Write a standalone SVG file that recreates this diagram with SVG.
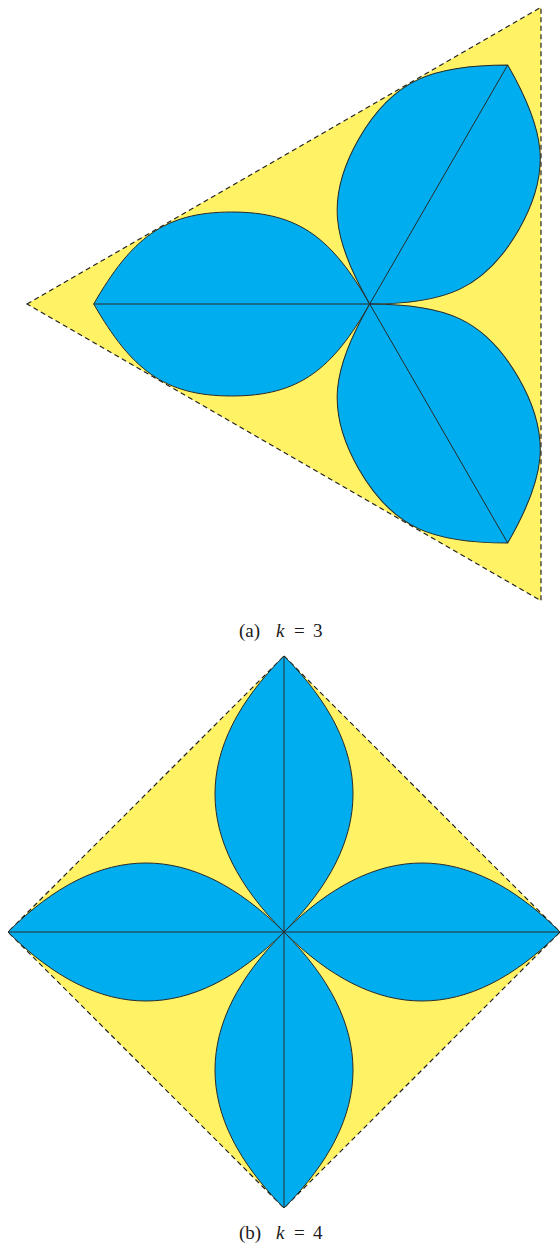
<svg xmlns="http://www.w3.org/2000/svg" width="560" height="1244" viewBox="0 0 560 1244">
<style>
.region{fill:#FFF264;stroke:#222;stroke-width:1.2;stroke-dasharray:5 3.5}
.petal{fill:#00AEEF;stroke:#2a2a2a;stroke-width:1;stroke-linejoin:round}
.axis{stroke:#2a2a2a;stroke-width:1;fill:none}
.cap{font-family:"Liberation Serif","Times New Roman",serif;font-size:19px;fill:#1a1a1a}
.it{font-style:italic}
</style>
<defs>
<path id="p3" d="M-276,0 C-238.5,-65 -206,-92 -138,-92 C-70,-92 -37.5,-65 0,0 C-37.5,65 -70,92 -138,92 C-206,92 -238.5,65 -276,0 Z"/>
<path id="p4" d="M-276,0 C-184,-92 -92,-92 0,0 C-92,92 -184,92 -276,0 Z"/>
</defs>
<rect width="560" height="1244" fill="#fff"/>
<g id="figure-a">
  <g id="triangle-a"><polygon class="region" points="27,304 541,7.25 541,600.75"/></g>
  <g id="petal-a1"><use href="#p3" class="petal" transform="translate(369.7,304)"/></g>
  <g id="petal-a2"><use href="#p3" class="petal" transform="translate(369.7,304) rotate(120)"/></g>
  <g id="petal-a3"><use href="#p3" class="petal" transform="translate(369.7,304) rotate(240)"/></g>
  <g id="axes-a">
    <line class="axis" x1="369.7" y1="304" x2="93.7" y2="304"/>
    <line class="axis" x1="369.7" y1="304" x2="507.7" y2="65"/>
    <line class="axis" x1="369.7" y1="304" x2="507.7" y2="543"/>
  </g>
  <text class="cap" y="637"><tspan x="239">(a)</tspan><tspan class="it" x="276">k</tspan><tspan x="294">=</tspan><tspan x="313">3</tspan></text>
</g>
<g id="figure-b">
  <g id="square-b"><polygon class="region" points="284,656 560,932 284,1208 8,932"/></g>
  <g id="petal-b1"><use href="#p4" class="petal" transform="translate(284,932)"/></g>
  <g id="petal-b2"><use href="#p4" class="petal" transform="translate(284,932) rotate(90)"/></g>
  <g id="petal-b3"><use href="#p4" class="petal" transform="translate(284,932) rotate(180)"/></g>
  <g id="petal-b4"><use href="#p4" class="petal" transform="translate(284,932) rotate(270)"/></g>
  <g id="axes-b">
    <line class="axis" x1="284" y1="656" x2="284" y2="1208"/>
    <line class="axis" x1="8" y1="932" x2="560" y2="932"/>
  </g>
  <text class="cap" y="1239"><tspan x="239">(b)</tspan><tspan class="it" x="276">k</tspan><tspan x="294">=</tspan><tspan x="313">4</tspan></text>
</g>
</svg>
